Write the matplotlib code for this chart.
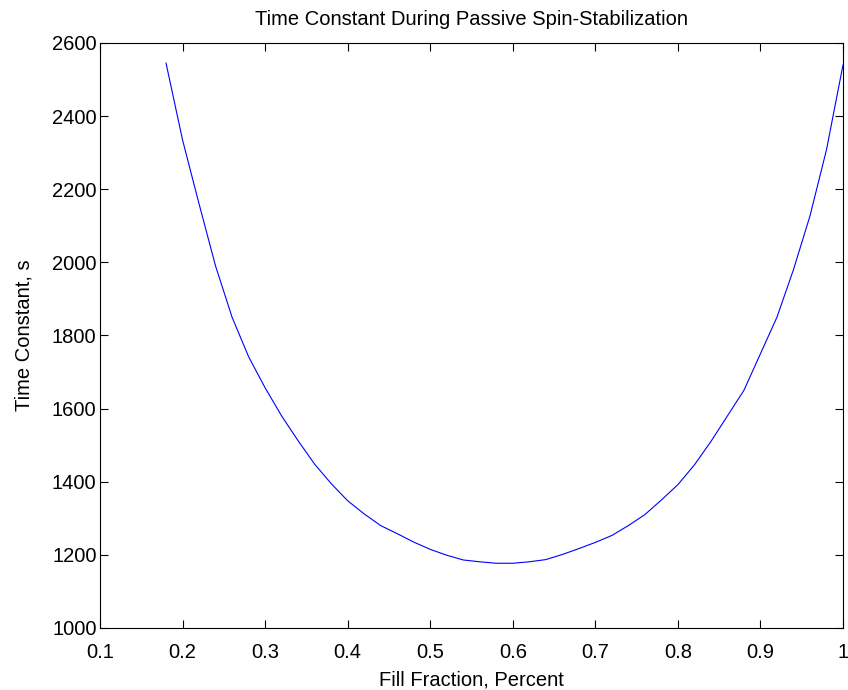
import matplotlib
matplotlib.use('Agg')
import matplotlib.pyplot as plt
from matplotlib.ticker import FuncFormatter

# valeurs (pas de 0.02)
fill = [0.18, 0.20, 0.22, 0.24, 0.26, 0.28, 0.30, 0.32, 0.34, 0.36, 0.38,
        0.40, 0.42, 0.44, 0.46, 0.48, 0.50, 0.52, 0.54, 0.56, 0.58, 0.60,
        0.62, 0.64, 0.66, 0.68, 0.70, 0.72, 0.74, 0.76, 0.78, 0.80, 0.82,
        0.84, 0.86, 0.88, 0.90, 0.92, 0.94, 0.96, 0.98, 1.00]
tau = [2545, 2335, 2160, 1990, 1850, 1742, 1657, 1580, 1512, 1448, 1395,
       1348, 1312, 1280, 1258, 1235, 1215, 1199, 1186, 1181, 1177, 1177,
       1181, 1187, 1201, 1217, 1234, 1253, 1280, 1310, 1350, 1392, 1446,
       1510, 1580, 1650, 1750, 1850, 1980, 2127, 2308, 2540]

xticks = [0.1, 0.2, 0.3, 0.4, 0.5, 0.6, 0.7, 0.8, 0.9, 1.0]
yticks = [1000, 1200, 1400, 1600, 1800, 2000, 2200, 2400, 2600]

plt.rcParams['font.family'] = ['Liberation Sans', 'DejaVu Sans']
fs = 14.5

fig = plt.figure(figsize=(8.48, 6.9), dpi=100)
ax = fig.add_axes([0.1179, 0.0899, 0.8762, 0.8478])
ax.plot(fill, tau, color='#0000ff', lw=0.8)

ax.set_xlim(0.1, 1.0)
ax.set_ylim(1000, 2600)
ax.set_xticks(xticks)
ax.set_yticks(yticks)
ax.xaxis.set_major_formatter(FuncFormatter(lambda v, p: '%g' % v))
ax.tick_params(direction='in', length=6, width=0.8, top=True, right=True,
               labelsize=fs)
ax.tick_params(axis='x', pad=10.5)
ax.tick_params(axis='y', pad=2.5)
for s in ax.spines.values():
    s.set_linewidth(0.8)

ax.set_title('Time Constant During Passive Spin-Stabilization', fontsize=fs, pad=13)
ax.set_xlabel('Fill Fraction, Percent', fontsize=fs, labelpad=6.5)
ax.set_ylabel('Time Constant, s', fontsize=fs, labelpad=13)

fig.savefig('out.png', dpi=100)
